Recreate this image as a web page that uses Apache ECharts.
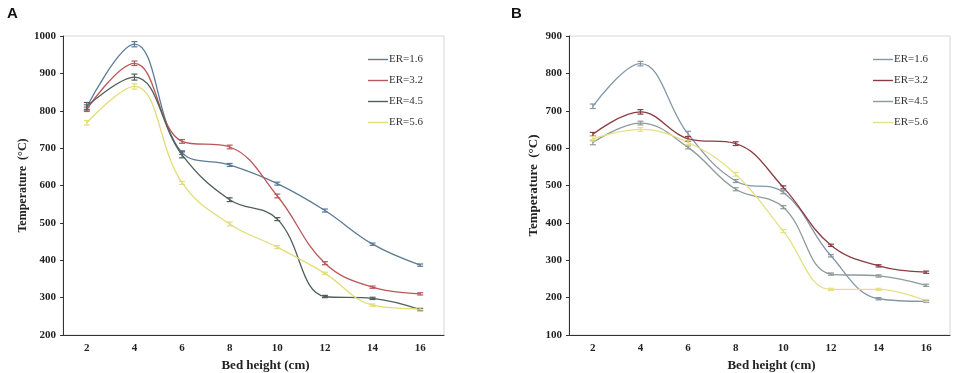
<!DOCTYPE html>
<html><head><meta charset="utf-8">
<script src="https://cdn.jsdelivr.net/npm/echarts@6/dist/echarts.min.js"></script>
<style>html,body{margin:0;padding:0;background:#fff}#c{width:957px;height:373px}</style>
</head><body><div id="c"></div>
<script>
// ---- data ----
var categories = ['2','4','6','8','10','12','14','16'];
var seriesNames = ['ER=1.6','ER=3.2','ER=4.5','ER=5.6'];

// Panel A
var a_er16 = [810, 978, 688, 655, 605, 533, 443, 387];
var a_er32 = [804, 927, 718, 703, 572, 392, 328, 310];
var a_er45 = [812, 890, 682, 562, 510, 303, 298, 268];
var a_er56 = [768, 865, 607, 497, 435, 365, 280, 270];
var a_err16 = [6, 7, 5, 4, 4, 4, 3, 3];
var a_err32 = [6, 6, 5, 5, 5, 4, 3, 3];
var a_err45 = [10, 8, 8, 5, 4, 3, 3, 3];
var a_err56 = [6, 7, 4, 5, 4, 3, 3, 3];

// Panel B
var b_er16 = [712, 826, 638, 512, 482, 312, 197, 190];
var b_er32 = [637, 697, 625, 612, 495, 340, 285, 268];
var b_er45 = [615, 667, 602, 490, 442, 263, 258, 233];
var b_er56 = [625, 650, 615, 530, 378, 222, 222, 192];
var b_err16 = [6, 6, 7, 4, 4, 3, 3, 3];
var b_err32 = [5, 6, 6, 5, 4, 3, 3, 3];
var b_err45 = [6, 5, 4, 4, 4, 3, 3, 3];
var b_err56 = [6, 5, 6, 5, 4, 3, 3, 3];

var yTicksA = {min: 200, max: 1000, interval: 100};
var yTicksB = {min: 100, max: 900, interval: 100};

// ---- styles ----
var colorsA = ['#5b7b96', '#b9575a', '#4f5f5a', '#e3dc78'];
var colorsB = ['#8497a6', '#8a3c42', '#8e9b98', '#e6df86'];
var serif = '"Liberation Serif","Times New Roman",serif';

function lineSeries(name, data, color, gi) {
  return {
    type: 'line', name: name, data: data, xAxisIndex: gi, yAxisIndex: gi,
    smooth: 0.4, symbol: 'none', z: 3,
    lineStyle: {color: color, width: 1.3}, itemStyle: {color: color}
  };
}
function errSeries(vals, errs, color, gi) {
  return {
    type: 'custom', name: 'err', xAxisIndex: gi, yAxisIndex: gi, z: 4,
    encode: {x: 0, y: 1}, silent: true,
    data: vals.map(function (v, i) { return [i, v, errs[i]]; }),
    renderItem: function (params, api) {
      var x = api.value(0), v = api.value(1), e = api.value(2);
      var hi = api.coord([x, v + e]), lo = api.coord([x, v - e]);
      var w = 3;
      var st = {stroke: color, lineWidth: 1.2};
      return {type: 'group', children: [
        {type: 'line', shape: {x1: hi[0], y1: hi[1], x2: lo[0], y2: lo[1]}, style: st},
        {type: 'line', shape: {x1: hi[0] - w, y1: hi[1], x2: hi[0] + w, y2: hi[1]}, style: st},
        {type: 'line', shape: {x1: lo[0] - w, y1: lo[1], x2: lo[0] + w, y2: lo[1]}, style: st}
      ]};
    }
  };
}

function xAxis(gi) {
  return {
    type: 'category', gridIndex: gi, data: categories, boundaryGap: true,
    name: 'Bed height (cm)', nameLocation: 'middle', nameGap: 21,
    nameTextStyle: {fontFamily: serif, fontWeight: 'bold', fontSize: 13, color: '#222', padding: [0, 0, 0, 24]},
    axisLine: {lineStyle: {color: '#333', width: 1}},
    axisTick: {alignWithLabel: true, length: 3, lineStyle: {color: '#333'}},
    axisLabel: {fontFamily: serif, fontWeight: 'bold', fontSize: 11, color: '#222', margin: 8},
    splitLine: {show: false}
  };
}
function yAxis(gi, t, gap, fs) {
  return {
    type: 'value', gridIndex: gi, min: t.min, max: t.max, interval: t.interval,
    name: 'Temperature  (°C)', nameLocation: 'middle', nameGap: gap, nameRotate: 90,
    nameTextStyle: {fontFamily: serif, fontWeight: 'bold', fontSize: fs, color: '#222'},
    axisLine: {show: true, lineStyle: {color: '#333', width: 1}},
    axisTick: {show: true, length: 3, lineStyle: {color: '#333'}},
    axisLabel: {fontFamily: serif, fontWeight: 'bold', fontSize: 11, color: '#222', margin: 7,
      formatter: function (v) { return String(v); }},
    splitLine: {show: false}
  };
}

var aVals = [a_er16, a_er32, a_er45, a_er56];
var aErrs = [a_err16, a_err32, a_err45, a_err56];
var bVals = [b_er16, b_er32, b_er45, b_er56];
var bErrs = [b_err16, b_err32, b_err45, b_err56];

var series = [];
seriesNames.forEach(function (n, i) {
  series.push(lineSeries(n, aVals[i], colorsA[i], 0));
  series.push(errSeries(aVals[i], aErrs[i], colorsA[i], 0));
});
seriesNames.forEach(function (n, i) {
  series.push(lineSeries('B ' + n, bVals[i], colorsB[i], 1));
  series.push(errSeries(bVals[i], bErrs[i], colorsB[i], 1));
});

function legend(left, names, prefix) {
  return {
    orient: 'vertical', left: left, top: 48, itemWidth: 20, itemHeight: 1.4, itemGap: 8,
    icon: 'rect', selectedMode: false,
    data: names.map(function (n) { return prefix + n; }),
    formatter: function (n) { return n.replace(/^B /, ''); },
    textStyle: {fontFamily: serif, fontSize: 11, lineHeight: 13, color: '#333', padding: [0, 0, 0, -4]}
  };
}

var chart = echarts.init(document.getElementById('c'), null, {renderer: 'canvas'});
chart.setOption({
  animation: false,
  backgroundColor: '#fff',
  grid: [
    {left: 63, top: 36, width: 381, height: 299, show: true, borderColor: '#d6d6d6', borderWidth: 1,
      containLabel: false, outerBoundsMode: 'none'},
    {left: 569, top: 36, width: 381, height: 299, show: true, borderColor: '#d6d6d6', borderWidth: 1,
      containLabel: false, outerBoundsMode: 'none'}
  ],
  xAxis: [xAxis(0), xAxis(1)],
  yAxis: [yAxis(0, yTicksA, 34, 12), yAxis(1, yTicksB, 29, 13)],
  legend: [legend(363, seriesNames, ''), legend(868, seriesNames, 'B ')],
  graphic: [
    {type: 'text', left: 7, top: 6, style: {text: 'A', font: 'bold 15px "Liberation Sans", Arial, sans-serif', fill: '#111'}},
    {type: 'text', left: 511, top: 6, style: {text: 'B', font: 'bold 15px "Liberation Sans", Arial, sans-serif', fill: '#111'}}
  ],
  series: series
});
</script>
</body></html>
